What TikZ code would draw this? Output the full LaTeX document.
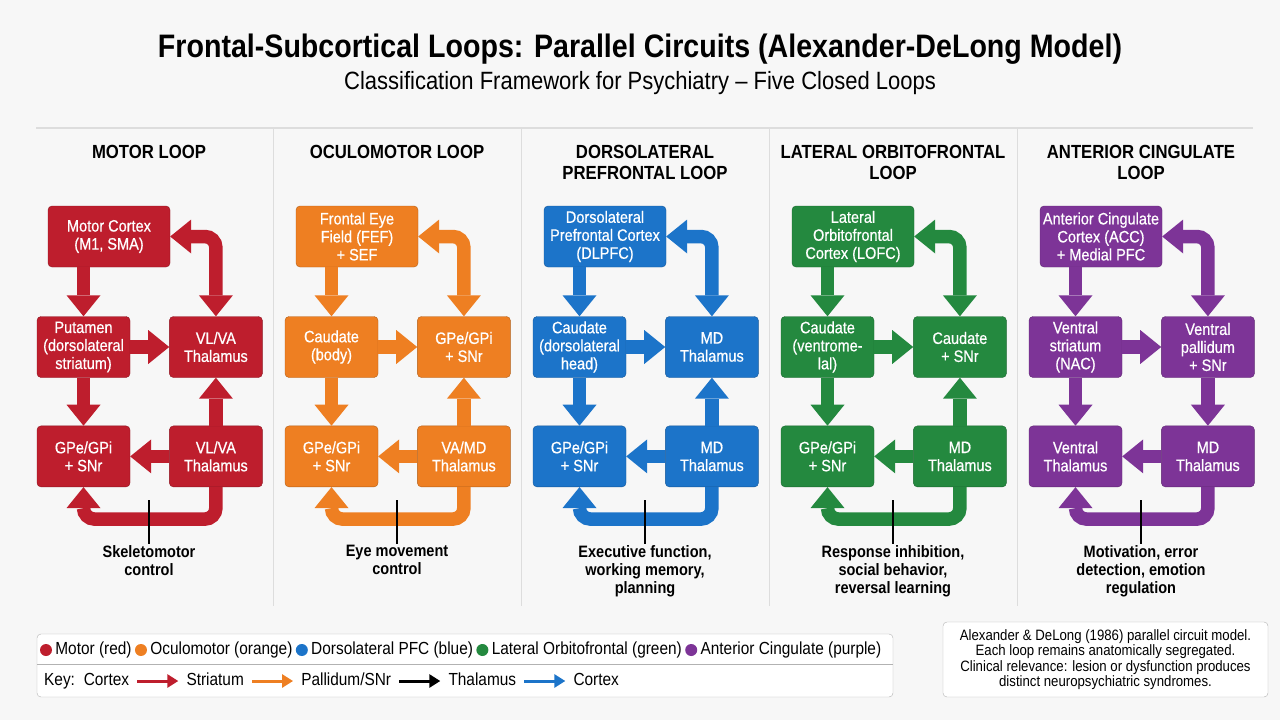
\documentclass[tikz,border=0pt]{standalone}
\usepackage{fontspec}
\setmainfont{Liberation Sans}[FakeStretch=0.88]
\newfontfamily\boxfont{Liberation Sans}[FakeStretch=0.88, FakeBold=0.6]
\usepackage{tikz}
\usetikzlibrary{arrows.meta,positioning,calc}

\definecolor{motred}{HTML}{BE1E2D}
\definecolor{ocuorange}{HTML}{EE7F22}
\definecolor{dlblue}{HTML}{1C74C9}
\definecolor{lofgreen}{HTML}{24893F}
\definecolor{accpurple}{HTML}{7D3497}
\definecolor{bgpage}{HTML}{F7F7F7}
\definecolor{rulegrey}{HTML}{DDDDDD}

% one loop column: index, colour, title, cortex, striatum, right box, bottom left, bottom right, outcome
\newcommand{\loopcol}[9]{%
  \begin{scope}[xshift={248pt*#1}]
    \node[coltitle] (L#1-ttl) at (149,145) {#3};
    \node[blk=#2, minimum width=122pt] (L#1-ctx) at (109,236.5) {#4};
    \node[blk=#2] (L#1-str) at (83.5,347) {#5};
    \node[blk=#2, right=39pt of L#1-str] (L#1-rt) {#6};
    \node[blk=#2, below=48pt of L#1-str] (L#1-lb) {#7};
    \node[blk=#2, below=48pt of L#1-rt] (L#1-rb) {#8};

    \draw[flow=#2] (L#1-str.north |- L#1-ctx.south) -- (L#1-str.north);
    \draw[flow=#2, twoway] (L#1-ctx.east) -| (L#1-rt.north);
    \draw[flow=#2] (L#1-str) -- (L#1-rt);
    \draw[flow=#2] (L#1-str) -- (L#1-lb);
    \draw[flow=#2] (L#1-rb) -- (L#1-lb);
    \draw[flow=#2] (L#1-rb.south) -- ++(0,32) -| (L#1-lb.south);

    \coordinate (L#1-tag) at (149,500);
    \node[outcome] (L#1-out) at (149,544) {#9};
    \draw[tagline] (L#1-tag) -- (L#1-out);
  \end{scope}}

\begin{document}
\begin{tikzpicture}[
  x=1pt, y=-1pt,
  bigtip/.tip={Triangle[width=34pt, length=21pt, line width=0pt]},
  blk/.style={draw=#1!75!black, fill=#1, rounded corners=4pt, text=white, align=center,
    minimum width=93pt, minimum height=61pt, inner sep=2pt, font=\boxfont\fontsize{16.5}{18}\selectfont},
  flow/.style={draw=#1, line width=13.5pt, rounded corners=11pt, -bigtip},
  twoway/.style={bigtip-bigtip},
  coltitle/.style={anchor=north, align=center, inner sep=0pt, font=\bfseries\fontsize{19}{21}\selectfont},
  outcome/.style={anchor=north, align=center, inner sep=1pt, font=\bfseries\fontsize{16.5}{18}\selectfont},
  tagline/.style={draw=black, line width=1.2pt},
  dot/.style={circle, fill=#1, inner sep=0pt, minimum size=12pt},
  keytxt/.style={inner sep=2pt, text height=13pt, text depth=4pt, font=\fontsize{17.5}{20}\selectfont},
  keyarr/.style={draw=#1, line width=3pt, -{Triangle[width=13pt, length=11pt]}, shorten <=6pt, shorten >=6pt},
  panel/.style={draw=black!30, fill=white, rounded corners=4pt}
]
  \useasboundingbox (0,0) rectangle (1280,720);
  \fill[bgpage] (0,0) rectangle (1280,720);

  % heading
  \node[font=\bfseries\fontsize{32.5}{36}\selectfont] (title) at (640,49)
    {Frontal-Subcortical Loops: Parallel Circuits (Alexander-DeLong Model)};
  \node[font=\fontsize{25}{28}\selectfont] (subtitle) at (640,83)
    {Classification Framework for Psychiatry -- Five Closed Loops};
  \draw[rulegrey, line width=1.5pt] (36,128) -- (1253,128);
  \foreach \x in {273,521,769,1017}
    \draw[rulegrey, line width=1pt] (\x,128) -- (\x,606);

  % the five loops
  \loopcol{0}{motred}{MOTOR LOOP}{Motor Cortex\\(M1, SMA)}
    {Putamen\\(dorsolateral\\striatum)}{VL/VA\\Thalamus}{GPe/GPi\\+ SNr}{VL/VA\\Thalamus}
    {Skeletomotor\\control}
  \draw[flow=motred] (L0-rb) -- (L0-rt);

  \loopcol{1}{ocuorange}{OCULOMOTOR LOOP}{Frontal Eye\\Field (FEF)\\+ SEF}
    {Caudate\\(body)}{GPe/GPi\\+ SNr}{GPe/GPi\\+ SNr}{VA/MD\\Thalamus}
    {Eye movement\\control}
  \draw[flow=ocuorange] (L1-rb) -- (L1-rt);

  \loopcol{2}{dlblue}{DORSOLATERAL\\PREFRONTAL LOOP}{Dorsolateral\\Prefrontal Cortex\\(DLPFC)}
    {Caudate\\(dorsolateral\\head)}{MD\\Thalamus}{GPe/GPi\\+ SNr}{MD\\Thalamus}
    {Executive function,\\working memory,\\planning}
  \draw[flow=dlblue] (L2-rb) -- (L2-rt);

  \loopcol{3}{lofgreen}{LATERAL ORBITOFRONTAL\\LOOP}{Lateral\\Orbitofrontal\\Cortex (LOFC)}
    {Caudate\\(ventrome-\\lal)}{Caudate\\+ SNr}{GPe/GPi\\+ SNr}{MD\\Thalamus}
    {Response inhibition,\\social behavior,\\reversal learning}
  \draw[flow=lofgreen] (L3-rb) -- (L3-rt);

  \loopcol{4}{accpurple}{ANTERIOR CINGULATE\\LOOP}{Anterior Cingulate\\Cortex (ACC)\\+ Medial PFC}
    {Ventral\\striatum\\(NAC)}{Ventral\\pallidum\\+ SNr}{Ventral\\Thalamus}{MD\\Thalamus}
    {Motivation, error\\detection, emotion\\regulation}
  \draw[flow=accpurple] (L4-rt) -- (L4-rb);

  % legend
  \node[panel, minimum width=856pt, minimum height=63pt] (legend) at (465,665.5) {};
  \draw[black!30] (legend.west |- 0,664) -- (legend.east |- 0,664);
  \node[dot=motred] (d-mot) at (46,650) {};
  \node[keytxt, right=1pt of d-mot] (t-mot) {Motor (red)};
  \node[dot=ocuorange, right=1pt of t-mot] (d-ocu) {};
  \node[keytxt, right=1pt of d-ocu] (t-ocu) {Oculomotor (orange)};
  \node[dot=dlblue, right=1pt of t-ocu] (d-dl) {};
  \node[keytxt, right=1pt of d-dl] (t-dl) {Dorsolateral PFC (blue)};
  \node[dot=lofgreen, right=1pt of t-dl] (d-lof) {};
  \node[keytxt, right=1pt of d-lof] (t-lof) {Lateral Orbitofrontal (green)};
  \node[dot=accpurple, right=1pt of t-lof] (d-acc) {};
  \node[keytxt, right=1pt of d-acc] (t-acc) {Anterior Cingulate (purple)};

  \node[keytxt, anchor=west] (k-ctx) at (42,681) {Key:\enspace Cortex};
  \node[keytxt, right=53pt of k-ctx] (k-str) {Striatum};
  \node[keytxt, right=53pt of k-str] (k-pal) {Pallidum/SNr};
  \node[keytxt, right=53pt of k-pal] (k-thal) {Thalamus};
  \node[keytxt, right=53pt of k-thal] (k-ctx2) {Cortex};
  \draw[keyarr=motred] (k-ctx) -- (k-str);
  \draw[keyarr=ocuorange] (k-str) -- (k-pal);
  \draw[keyarr=black] (k-pal) -- (k-thal);
  \draw[keyarr=dlblue] (k-thal) -- (k-ctx2);

  % note
  \node[panel, align=center, minimum width=325pt, minimum height=75pt,
    font=\fontsize{15}{15.5}\selectfont] (note) at (1105.5,659.5)
    {Alexander \& DeLong (1986) parallel circuit model.\\
     Each loop remains anatomically segregated.\\
     Clinical relevance: lesion or dysfunction produces\\
     distinct neuropsychiatric syndromes.};
\end{tikzpicture}
\end{document}
